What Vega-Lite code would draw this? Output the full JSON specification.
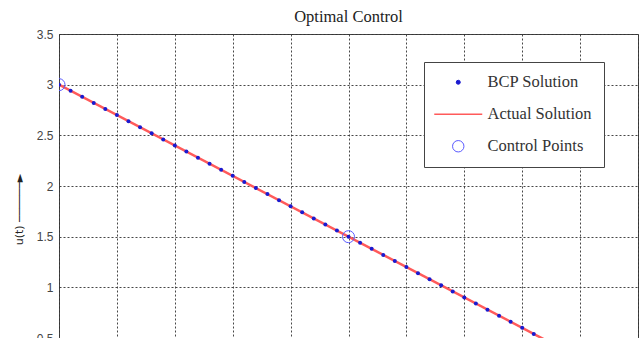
{
  "$schema": "https://vega.github.io/schema/vega-lite/v6.json",
  "autosize": "none",
  "width": 579,
  "height": 304,
  "padding": {"left": 59, "top": 34, "right": 3, "bottom": 0},
  "background": "white",
  "title": {"text": "Optimal Control", "font": "Liberation Serif", "fontSize": 16.5, "fontWeight": "normal", "color": "#222", "offset": 3},
  "config": {"view": {"stroke": "#444", "strokeWidth": 1}},
  "data": {"values": [
    {"series": "Actual Solution", "t": 0, "u": 3},
    {"series": "Actual Solution", "t": 1, "u": 0},
    {"series": "Control Points", "t": 0, "u": 3},
    {"series": "Control Points", "t": 0.5, "u": 1.5},
    {"series": "Control Points", "t": 1, "u": 0},
    {"series": "BCP Solution", "t": 0.00, "u": 3.00},
    {"series": "BCP Solution", "t": 0.02, "u": 2.94},
    {"series": "BCP Solution", "t": 0.04, "u": 2.88},
    {"series": "BCP Solution", "t": 0.06, "u": 2.82},
    {"series": "BCP Solution", "t": 0.08, "u": 2.76},
    {"series": "BCP Solution", "t": 0.10, "u": 2.70},
    {"series": "BCP Solution", "t": 0.12, "u": 2.64},
    {"series": "BCP Solution", "t": 0.14, "u": 2.58},
    {"series": "BCP Solution", "t": 0.16, "u": 2.52},
    {"series": "BCP Solution", "t": 0.18, "u": 2.46},
    {"series": "BCP Solution", "t": 0.20, "u": 2.40},
    {"series": "BCP Solution", "t": 0.22, "u": 2.34},
    {"series": "BCP Solution", "t": 0.24, "u": 2.28},
    {"series": "BCP Solution", "t": 0.26, "u": 2.22},
    {"series": "BCP Solution", "t": 0.28, "u": 2.16},
    {"series": "BCP Solution", "t": 0.30, "u": 2.10},
    {"series": "BCP Solution", "t": 0.32, "u": 2.04},
    {"series": "BCP Solution", "t": 0.34, "u": 1.98},
    {"series": "BCP Solution", "t": 0.36, "u": 1.92},
    {"series": "BCP Solution", "t": 0.38, "u": 1.86},
    {"series": "BCP Solution", "t": 0.40, "u": 1.80},
    {"series": "BCP Solution", "t": 0.42, "u": 1.74},
    {"series": "BCP Solution", "t": 0.44, "u": 1.68},
    {"series": "BCP Solution", "t": 0.46, "u": 1.62},
    {"series": "BCP Solution", "t": 0.48, "u": 1.56},
    {"series": "BCP Solution", "t": 0.50, "u": 1.50},
    {"series": "BCP Solution", "t": 0.52, "u": 1.44},
    {"series": "BCP Solution", "t": 0.54, "u": 1.38},
    {"series": "BCP Solution", "t": 0.56, "u": 1.32},
    {"series": "BCP Solution", "t": 0.58, "u": 1.26},
    {"series": "BCP Solution", "t": 0.60, "u": 1.20},
    {"series": "BCP Solution", "t": 0.62, "u": 1.14},
    {"series": "BCP Solution", "t": 0.64, "u": 1.08},
    {"series": "BCP Solution", "t": 0.66, "u": 1.02},
    {"series": "BCP Solution", "t": 0.68, "u": 0.96},
    {"series": "BCP Solution", "t": 0.70, "u": 0.90},
    {"series": "BCP Solution", "t": 0.72, "u": 0.84},
    {"series": "BCP Solution", "t": 0.74, "u": 0.78},
    {"series": "BCP Solution", "t": 0.76, "u": 0.72},
    {"series": "BCP Solution", "t": 0.78, "u": 0.66},
    {"series": "BCP Solution", "t": 0.80, "u": 0.60},
    {"series": "BCP Solution", "t": 0.82, "u": 0.54},
    {"series": "BCP Solution", "t": 0.84, "u": 0.48},
    {"series": "BCP Solution", "t": 0.86, "u": 0.42},
    {"series": "BCP Solution", "t": 0.88, "u": 0.36},
    {"series": "BCP Solution", "t": 0.90, "u": 0.30},
    {"series": "BCP Solution", "t": 0.92, "u": 0.24},
    {"series": "BCP Solution", "t": 0.94, "u": 0.18},
    {"series": "BCP Solution", "t": 0.96, "u": 0.12},
    {"series": "BCP Solution", "t": 0.98, "u": 0.06},
    {"series": "BCP Solution", "t": 1.00, "u": 0.00}
  ]},
  "encoding": {
    "x": {"field": "t", "type": "quantitative",
      "scale": {"domain": [0, 1], "nice": false, "zero": false},
      "axis": {"values": [0, 0.1, 0.2, 0.3, 0.4, 0.5, 0.6, 0.7, 0.8, 0.9, 1], "labels": false, "ticks": false, "domain": false, "title": null,
        "grid": true, "gridDash": [2, 2], "gridColor": "#333", "gridOpacity": 0.9, "gridWidth": 1}},
    "y": {"field": "u", "type": "quantitative",
      "scale": {"domain": [0.5, 3.5], "nice": false, "zero": false},
      "axis": {"values": [0.5, 1, 1.5, 2, 2.5, 3, 3.5], "labelExpr": "'' + datum.value", "ticks": false, "domain": false,
        "labelFont": "Liberation Sans", "labelFontSize": 12, "labelColor": "#444", "labelPadding": 6,
        "grid": true, "gridDash": [2, 2], "gridColor": "#333", "gridOpacity": 0.9, "gridWidth": 1,
        "title": "u(t)   ──────►", "titleFont": "DejaVu Sans", "titleFontSize": 11, "titleFontWeight": "normal", "titleColor": "#222",
        "titleAngle": 270, "titleX": -40, "titleY": 175, "titleAlign": "center", "titleBaseline": "middle"}},
    "color": {"field": "series", "type": "nominal",
      "scale": {"domain": ["BCP Solution", "Actual Solution", "Control Points"], "range": ["#1a1ad0", "#ff5a5a", "#5a5aff"]},
      "legend": {"title": null, "orient": "none", "legendX": 365, "legendY": 28,
        "strokeColor": "#444", "fillColor": "white", "padding": 12,
        "labelFont": "Liberation Serif", "labelFontSize": 16.5, "labelColor": "#333", "labelOffset": 21,
        "symbolOffset": 14, "rowPadding": 15,
        "encode": {"symbols": {"update": {
          "shape": {"signal": "datum.value === 'Actual Solution' ? 'stroke' : 'circle'"},
          "size": {"signal": "datum.value === 'Actual Solution' ? 2304 : datum.value === 'Control Points' ? 130 : 16"},
          "fill": {"signal": "datum.value === 'BCP Solution' ? '#1a1ad0' : 'transparent'"},
          "fillOpacity": {"signal": "datum.value === 'BCP Solution' ? 1 : 0"},
          "stroke": {"signal": "datum.value === 'Actual Solution' ? '#ff5a5a' : datum.value === 'Control Points' ? '#5a5aff' : 'transparent'"},
          "strokeWidth": {"signal": "datum.value === 'Actual Solution' ? 1.5 : 1"},
          "opacity": {"value": 1}
        }}}}}
  },
  "layer": [
    {"transform": [{"filter": "datum.series === 'Actual Solution'"}],
     "mark": {"type": "line", "strokeWidth": 2.5, "clip": true}},
    {"transform": [{"filter": "datum.series === 'BCP Solution'"}],
     "mark": {"type": "point", "filled": true, "shape": "circle", "size": 16, "opacity": 1, "clip": true}},
    {"transform": [{"filter": "datum.series === 'Control Points'"}],
     "mark": {"type": "point", "filled": false, "shape": "circle", "size": 144, "strokeWidth": 1, "opacity": 1, "clip": true}}
  ]
}
